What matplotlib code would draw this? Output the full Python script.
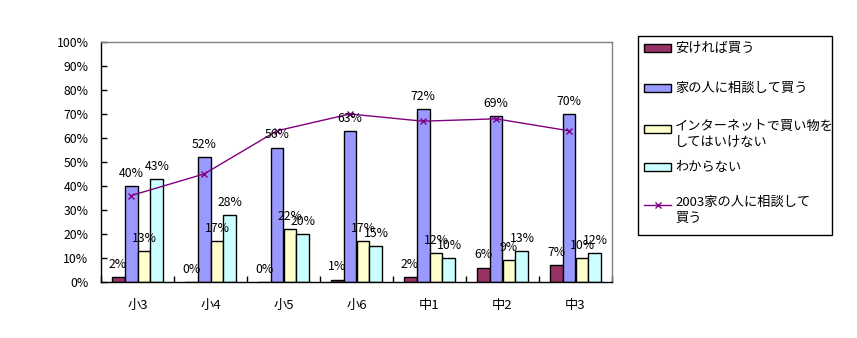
import matplotlib
matplotlib.use("Agg")
import matplotlib.pyplot as plt
import numpy as np
from matplotlib.patches import Rectangle
from matplotlib.lines import Line2D

plt.rcParams['font.family'] = ['Noto Sans CJK JP', 'DejaVu Sans']

categories = ["小3", "小4", "小5", "小6", "中1", "中2", "中3"]
series_names = ["安ければ買う", "家の人に相談して買う",
                "インターネットで買い物を\nしてはいけない", "わからない"]
cheap = [2, 0, 0, 1, 2, 6, 7]
ask_family = [40, 52, 56, 63, 72, 69, 70]
no_internet = [13, 17, 22, 17, 12, 9, 10]
dont_know = [43, 28, 20, 15, 10, 13, 12]
line_name = "2003家の人に相談して\n買う"
ask_family_2003 = [36, 45, 63, 70, 67, 68, 63]
yticks = [0, 10, 20, 30, 40, 50, 60, 70, 80, 90, 100]

colors = ["#993366", "#9999FF", "#FFFFCC", "#CCFFFF"]
line_color = "#800080"

W, H = 857, 338
fig = plt.figure(figsize=(W / 100, H / 100), dpi=100)
ax = fig.add_axes([101 / W, 1 - 282 / H, (612 - 101) / W, (282 - 42) / H])

n = len(categories)
x = np.arange(n)
bw = 0.178
offsets = (np.arange(4) - 1.5) * bw
series = [cheap, ask_family, no_internet, dont_know]
for vals, off, col in zip(series, offsets, colors):
    ax.bar(x + off, vals, width=bw, color=col, edgecolor="black",
           linewidth=1.0, zorder=2)
    for xi, v in zip(x + off, vals):
        ax.annotate(f"{v}%", (xi, v), xytext=(0, 4.5), textcoords="offset points",
                    ha="center", va="bottom", fontsize=8.8, zorder=4)

ax.plot(x + offsets[1], ask_family_2003, color=line_color, linewidth=1.0,
        marker="x", markersize=4, markeredgewidth=1.0, zorder=3)

ax.set_xlim(-0.5, n - 0.5)
ax.set_ylim(0, 100)
ax.set_yticks(yticks)
ax.set_yticklabels([f"{t}%" for t in yticks], fontsize=8.8)
ax.set_xticks(x)
ax.set_xticklabels(categories, fontsize=9.5)
ax.set_xticks(np.arange(n + 1) - 0.5, minor=True)
ax.tick_params(axis="x", which="major", length=0, pad=12)
ax.tick_params(axis="x", which="minor", direction="in", length=4, width=1)
ax.tick_params(axis="y", direction="in", length=4, width=1, pad=9)
for s in ["top", "right"]:
    ax.spines[s].set_color("#808080")
for s in ["left", "bottom"]:
    ax.spines[s].set_color("black")
for s in ax.spines.values():
    s.set_linewidth(1.0)


# legend box drawn in figure pixel coordinates
def fx(px):
    return px / W


def fy(py):
    return 1 - py / H


fig.patches.append(Rectangle((fx(638), fy(235)), fx(832) - fx(638), fy(36) - fy(235),
                             transform=fig.transFigure, facecolor="white",
                             edgecolor="black", linewidth=1.0))
entry_y = [48, 88, 129, 167]
for name, col, yy in zip(series_names, colors, entry_y):
    fig.patches.append(Rectangle((fx(644), fy(yy + 4)), fx(671) - fx(644),
                                 fy(yy - 4) - fy(yy + 4),
                                 transform=fig.transFigure, facecolor=col,
                                 edgecolor="black", linewidth=1.0))
    if "\n" in name:
        fig.text(fx(675), fy(yy - 9), name, ha="left", va="top",
                 fontsize=9.5, linespacing=1.25)
    else:
        fig.text(fx(675), fy(yy), name, ha="left", va="center", fontsize=9.5)

fig.lines.append(Line2D([fx(644), fx(671)], [fy(205), fy(205)],
                        transform=fig.transFigure, color=line_color, linewidth=1.0))
fig.lines.append(Line2D([fx(657.5)], [fy(205)], transform=fig.transFigure,
                        color=line_color, marker="x", markersize=4,
                        markeredgewidth=1.0, linestyle="none"))
fig.text(fx(675), fy(205 - 9), line_name, ha="left", va="top", fontsize=9.5,
         linespacing=1.25)

fig.savefig("out.png", dpi=100, facecolor="white")
